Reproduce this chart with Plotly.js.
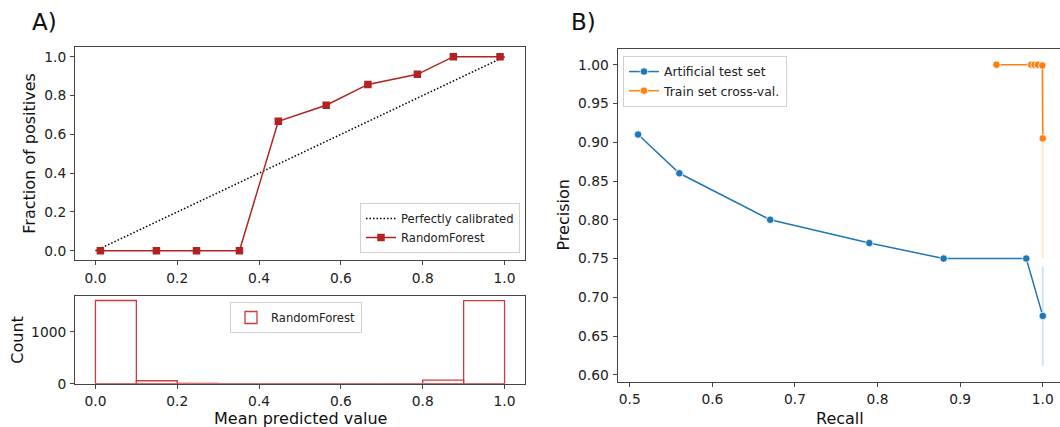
<!DOCTYPE html>
<html><head><meta charset="utf-8">
<script src="https://cdn.plot.ly/plotly-3.0.1.min.js"></script>
<style>html,body{margin:0;padding:0;overflow:hidden;background:#fff}#chart{width:1064px;height:427px}</style>
</head><body><div id="chart"></div>
<script>
// ---- data ----
const calibX = [0.012, 0.149, 0.247, 0.352, 0.447, 0.564, 0.666, 0.787, 0.875, 0.989];
const calibY = [0.0, 0.0, 0.0, 0.0, 0.667, 0.75, 0.857, 0.909, 1.0, 1.0];
const perfectX = [0, 1];
const perfectY = [0, 1];
const histEdges = [0.0, 0.1, 0.2, 0.3, 0.4, 0.5, 0.6, 0.7, 0.8, 0.9, 1.0];
const histCounts = [1600, 57, 5, 0, 0, 0, 0, 0, 68, 1598];
const testRecall = [0.51, 0.56, 0.67, 0.79, 0.88, 0.98, 1.0];
const testPrecision = [0.91, 0.86, 0.80, 0.77, 0.75, 0.75, 0.676];
const testBandRecall = [1.0, 1.0];
const testBandPrecision = [0.611, 0.74];
const cvRecall = [0.944, 0.986, 0.990, 0.994, 0.9995, 1.0];
const cvPrecision = [1.0, 1.0, 1.0, 1.0, 0.999, 0.905];
const cvBandRecall = [1.0, 1.0];
const cvBandPrecision = [0.751, 0.999];
const unitTicks = [0, 0.2, 0.4, 0.6, 0.8, 1.0];
const recallTicks = [0.5, 0.6, 0.7, 0.8, 0.9, 1.0];
const precisionTicks = [0.60, 0.65, 0.70, 0.75, 0.80, 0.85, 0.90, 0.95, 1.00];
const countTicks = [0, 1000];

// ---- helpers ----
const W = 1064, H = 427;
const px = v => v / W;
const py = v => 1 - v / H;
const FONT = 'DejaVu Sans, sans-serif';
const binCenters = histEdges.slice(0, -1).map((e, i) => (e + histEdges[i + 1]) / 2);
const binWidths = histEdges.slice(0, -1).map((e, i) => histEdges[i + 1] - e);

const RED = '#b22222';
const HISTRED = '#cd3b3b';
const BLUE = '#1f77b4';
const ORANGE = '#ff7f0e';

const traces = [
  {x: perfectX, y: perfectY, mode: 'lines', name: 'Perfectly calibrated',
   line: {color: '#000', width: 1.5, dash: '1.5px,2px'}, xaxis: 'x', yaxis: 'y', legend: 'legend'},
  {x: calibX, y: calibY, mode: 'lines+markers', name: 'RandomForest',
   line: {color: RED, width: 1.5}, marker: {symbol: 'square', size: 7.5, color: RED},
   xaxis: 'x', yaxis: 'y', legend: 'legend'},
  {type: 'bar', x: binCenters, y: histCounts, width: binWidths, name: 'RandomForest',
   marker: {color: 'rgba(0,0,0,0)', line: {color: HISTRED, width: 1.3}},
   xaxis: 'x2', yaxis: 'y2', legend: 'legend2'},
  {x: testBandRecall, y: testBandPrecision, mode: 'lines', showlegend: false,
   line: {color: 'rgba(31,119,180,0.2)', width: 2}, xaxis: 'x3', yaxis: 'y3', hoverinfo: 'skip'},
  {x: cvBandRecall, y: cvBandPrecision, mode: 'lines', showlegend: false,
   line: {color: 'rgba(255,127,14,0.18)', width: 2}, xaxis: 'x3', yaxis: 'y3', hoverinfo: 'skip'},
  {x: testRecall, y: testPrecision, mode: 'lines+markers', name: 'Artificial test set',
   line: {color: BLUE, width: 1.5}, marker: {size: 7.5, color: BLUE, line: {color: '#fff', width: 0.8}},
   xaxis: 'x3', yaxis: 'y3', legend: 'legend3'},
  {x: cvRecall, y: cvPrecision, mode: 'lines+markers', name: 'Train set cross-val.',
   line: {color: ORANGE, width: 1.5}, marker: {size: 7.5, color: ORANGE, line: {color: '#fff', width: 0.8}},
   xaxis: 'x3', yaxis: 'y3', legend: 'legend3'}
];

const axBase = {
  showgrid: false, zeroline: false, showline: true, mirror: true,
  linecolor: '#444', linewidth: 1, ticks: 'outside', ticklen: 4, tickwidth: 1,
  tickcolor: '#444', tickfont: {family: FONT, size: 13.8, color: '#222'},
  automargin: false, fixedrange: true, ticklabelstandoff: 1
};
const legBase = {
  font: {family: FONT, size: 11.6, color: '#222'}, bgcolor: 'rgba(255,255,255,0.85)',
  bordercolor: '#d0d0d0', borderwidth: 1, tracegroupgap: 0
};
const ann = (text, x, y, size, angle, xanchor) => ({
  text, x, y, xref: 'paper', yref: 'paper', showarrow: false, textangle: angle || 0,
  xanchor: xanchor || 'center', yanchor: 'middle', font: {family: FONT, size, color: '#111'}
});

const layout = {
  width: W, height: H, margin: {l: 0, r: 0, t: 0, b: 0},
  paper_bgcolor: '#fff', plot_bgcolor: '#fff', showlegend: true, barmode: 'overlay',
  xaxis: Object.assign({}, axBase, {domain: [px(75), px(525)], range: [-0.05, 1.05], anchor: 'y',
    tickvals: unitTicks, tickformat: '.1f'}),
  yaxis: Object.assign({}, axBase, {domain: [py(260.4), py(47)], range: [-0.05, 1.05], anchor: 'x',
    tickvals: unitTicks, tickformat: '.1f'}),
  xaxis2: Object.assign({}, axBase, {domain: [px(75), px(525)], range: [-0.05, 1.05], anchor: 'y2',
    tickvals: unitTicks, tickformat: '.1f'}),
  yaxis2: Object.assign({}, axBase, {domain: [py(383.7), py(295.7)], range: [0, 1692], anchor: 'x2',
    tickvals: countTicks, tickformat: 'd'}),
  xaxis3: Object.assign({}, axBase, {domain: [px(617.5), px(1063)], range: [0.4851, 1.0245], anchor: 'y3',
    tickvals: recallTicks, tickformat: '.1f'}),
  yaxis3: Object.assign({}, axBase, {domain: [py(381.5), py(49.3)], range: [0.5914, 1.0199], anchor: 'x3',
    tickvals: precisionTicks, tickformat: '.2f'}),
  legend: Object.assign({}, legBase, {x: px(520), y: py(253), xanchor: 'right', yanchor: 'bottom'}),
  legend2: Object.assign({}, legBase, {x: px(296), y: py(302), xanchor: 'center', yanchor: 'top'}),
  legend3: Object.assign({}, legBase, {x: px(623), y: py(56), xanchor: 'left', yanchor: 'top',
    font: {family: FONT, size: 12.4, color: '#222'}}),
  annotations: [
    ann('A)', px(30), py(22), 23, 0, 'left'),
    ann('B)', px(569), py(22), 23, 0, 'left'),
    ann('Fraction of positives', px(30), py(153.7), 16, -90),
    ann('Count', px(18), py(339.7), 16, -90),
    ann('Mean predicted value', px(300), py(418), 16),
    ann('Precision', px(563), py(215.5), 16, -90),
    ann('Recall', px(840), py(418), 16)
  ]
};

Plotly.newPlot('chart', traces, layout, {displayModeBar: false, staticPlot: true});
</script>
</body></html>
